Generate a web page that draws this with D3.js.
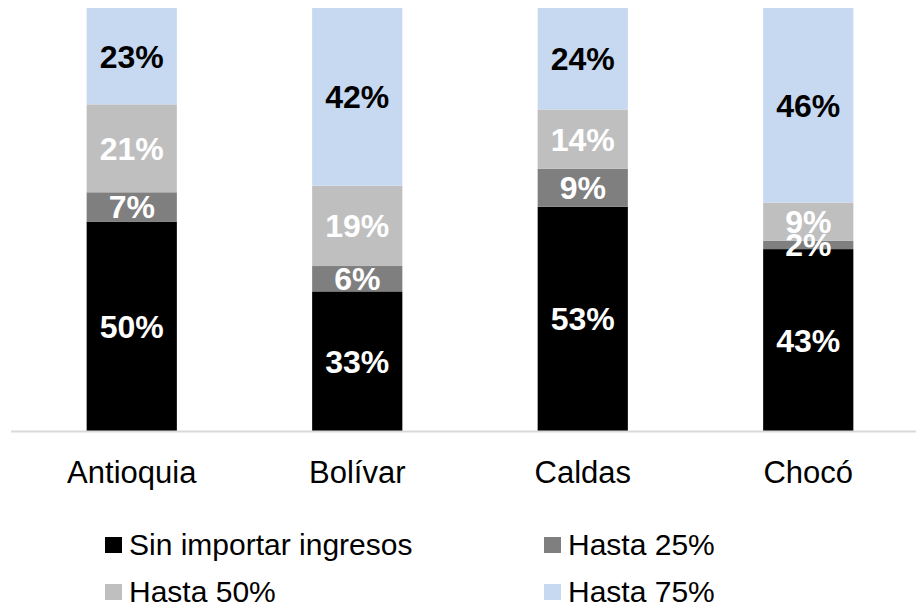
<!DOCTYPE html>
<html>
<head>
<meta charset="utf-8">
<script src="https://cdn.jsdelivr.net/npm/d3@7"></script>
<style>
  body { margin: 0; background: #fff; }
  svg text { font-family: "Liberation Sans", Arial, sans-serif; }
</style>
</head>
<body>
<div id="chart"></div>
<script>
const categorias = ["Antioquia", "Bolívar", "Caldas", "Chocó"];
const series = ["Sin importar ingresos", "Hasta 25%", "Hasta 50%", "Hasta 75%"];
const sinImportar = [50, 33, 53, 43];
const hasta25 = [7, 6, 9, 2];
const hasta50 = [21, 19, 14, 9];
const hasta75 = [23, 42, 24, 46];
const colores = ["#000000", "#7f7f7f", "#bfbfbf", "#c6d9f0"];
const colorTexto = ["#ffffff", "#ffffff", "#ffffff", "#000000"];

const valores = [sinImportar, hasta25, hasta50, hasta75];
const filas = categorias.map((c, i) => {
    const f = { categoria: c };
    series.forEach((s, j) => { f[s] = valores[j][i]; });
    return f;
});

const width = 916, height = 607;
const svg = d3.select("#chart").append("svg")
    .attr("width", width)
    .attr("height", height);

const x = d3.scaleBand()
    .domain(categorias)
    .range([19, 921])
    .paddingInner(0.6)
    .paddingOuter(0.3);

const y = d3.scaleLinear()
    .domain([0, 1])
    .range([431, 8]);

const stack = d3.stack()
    .keys(series)
    .offset(d3.stackOffsetExpand);
const capas = stack(filas);

const grupos = svg.selectAll(".serie")
    .data(capas)
    .enter()
    .append("g")
    .attr("class", "serie")
    .attr("fill", (d, i) => colores[i]);

grupos.selectAll("rect")
    .data(d => d)
    .enter()
    .append("rect")
    .attr("x", d => x(d.data.categoria))
    .attr("y", d => y(d[1]))
    .attr("width", x.bandwidth())
    .attr("height", d => y(d[0]) - y(d[1]));

// etiquetas de porcentaje
capas.forEach((capa, i) => {
    svg.append("g")
        .selectAll("text")
        .data(capa)
        .enter()
        .append("text")
        .attr("x", d => x(d.data.categoria) + x.bandwidth() / 2)
        .attr("y", d => (y(d[0]) + y(d[1])) / 2)
        .attr("dy", "0.36em")
        .attr("text-anchor", "middle")
        .attr("font-size", 32)
        .attr("font-weight", "bold")
        .attr("fill", colorTexto[i])
        .text(d => d.data[capa.key] + "%");
});

// eje x
svg.append("line")
    .attr("x1", 11).attr("x2", 916)
    .attr("y1", 431.5).attr("y2", 431.5)
    .attr("stroke", "#d9d9d9")
    .attr("stroke-width", 2);

const ejeX = svg.append("g")
    .attr("transform", "translate(0,431)")
    .call(d3.axisBottom(x).tickSize(0).tickPadding(30));
ejeX.select(".domain").remove();
ejeX.selectAll("text")
    .attr("font-size", 31)
    .attr("font-family", "'Liberation Sans', Arial, sans-serif")
    .attr("fill", "#000");

// leyenda
const posLeyenda = [[105, 545], [544, 545], [105, 592], [544, 592]];
const leyenda = svg.selectAll(".leyenda")
    .data(series)
    .enter()
    .append("g")
    .attr("class", "leyenda")
    .attr("transform", (d, i) => `translate(${posLeyenda[i][0]},${posLeyenda[i][1]})`);

leyenda.append("rect")
    .attr("x", 0)
    .attr("y", -8)
    .attr("width", 17)
    .attr("height", 16)
    .attr("fill", (d, i) => colores[i]);

leyenda.append("text")
    .attr("x", 24)
    .attr("y", 10)
    .attr("font-size", 30)
    .attr("fill", "#000")
    .text(d => d);
</script>
</body>
</html>
